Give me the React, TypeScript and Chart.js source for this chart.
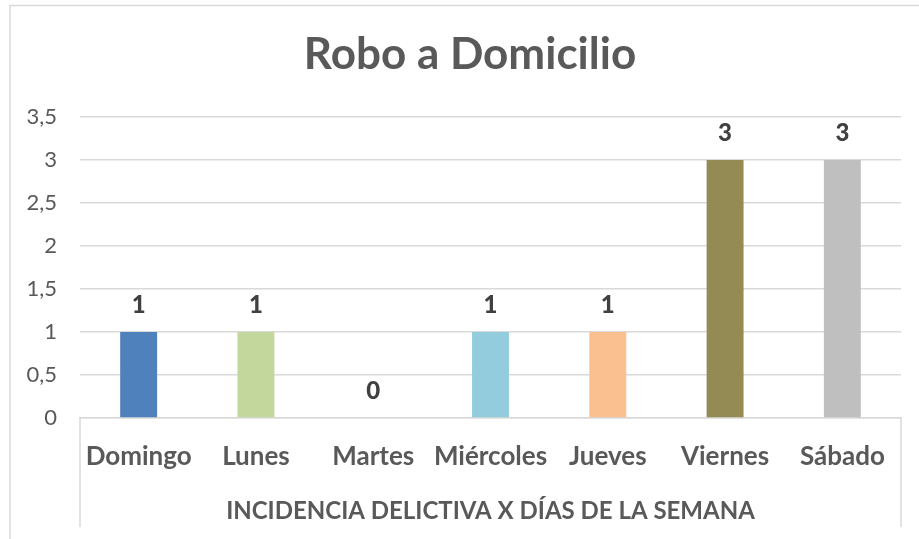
import React, { useEffect, useRef } from "react";
import { Chart, registerables } from "chart.js";

Chart.register(...registerables);

const chartTitle = "Robo a Domicilio";
const axisTitle = "INCIDENCIA DELICTIVA X DÍAS DE LA SEMANA";
const categories = ["Domingo", "Lunes", "Martes", "Miércoles", "Jueves", "Viernes", "Sábado"];
const values = [1, 1, 0, 1, 1, 3, 3];
const barColors = ["#4F81BD", "#C3D69B", "#8064A2", "#93CDDD", "#FAC090", "#948A54", "#BFBFBF"];
const yMin = 0;
const yMax = 3.5;
const yStep = 0.5;

const FONT = "Lato";
const GRID = "#D9D9D9";
const TEXT = "#595959";
const LABEL = "#404040";

const decorPlugin = {
  id: "decor",
  beforeDraw(chart: any) {
    const { ctx, width, height } = chart;
    ctx.save();
    ctx.fillStyle = "#FFFFFF";
    ctx.fillRect(0, 0, width, height);
    ctx.strokeStyle = GRID;
    ctx.lineWidth = 1.5;
    ctx.beginPath();
    ctx.moveTo(10, height);
    ctx.lineTo(10, 5.5);
    ctx.lineTo(width, 5.5);
    ctx.stroke();
    ctx.restore();
  },
  afterDraw(chart: any) {
    const { ctx, chartArea } = chart;
    ctx.save();
    // category axis box sides
    ctx.strokeStyle = GRID;
    ctx.lineWidth = 1.5;
    ctx.beginPath();
    ctx.moveTo(chartArea.left, chartArea.bottom);
    ctx.lineTo(chartArea.left, 527);
    ctx.moveTo(chartArea.right, chartArea.bottom);
    ctx.lineTo(chartArea.right, 527);
    ctx.stroke();

    // title
    ctx.fillStyle = TEXT;
    ctx.font = `bold 44px ${FONT}`;
    ctx.textAlign = "center";
    ctx.textBaseline = "middle";
    ctx.fillText(chartTitle, 470, 55);

    // data labels
    const meta = chart.getDatasetMeta(0);
    ctx.fillStyle = LABEL;
    ctx.font = `900 24px ${FONT}`;
    meta.data.forEach((bar: any, i: number) => {
      ctx.fillText(String(values[i]), bar.x, bar.y - 27);
    });
    ctx.restore();
  },
};

export default function App() {
  const ref = useRef<HTMLCanvasElement | null>(null);
  useEffect(() => {
    if (!ref.current) return;
    const chart = new Chart(ref.current, {
      type: "bar",
      data: {
        labels: categories,
        datasets: [
          {
            data: values,
            backgroundColor: barColors,
            borderWidth: 0,
            barPercentage: 0.315,
            categoryPercentage: 1,
          },
        ],
      },
      options: {
        animation: false,
        responsive: false,
        maintainAspectRatio: false,
        layout: { padding: { top: 117, left: 0, right: 18, bottom: 0 } },
        plugins: {
          legend: { display: false },
          tooltip: { enabled: false },
          title: { display: false },
        },
        scales: {
          x: {
            grid: { display: false },
            border: { display: true, color: GRID, width: 1.5 },
            ticks: {
              color: TEXT,
              font: { family: FONT, size: 26, weight: "bold" },
              padding: 15,
              maxRotation: 0,
              autoSkip: false,
            },
            title: {
              display: true,
              text: axisTitle,
              color: TEXT,
              font: { family: FONT, size: 24, weight: "bold" },
              padding: { top: 0, bottom: 13 },
            },
            afterFit: (scale: any) => {
              scale.height = 121;
            },
          },
          y: {
            min: yMin,
            max: yMax,
            grid: { color: GRID, lineWidth: 1.5, drawTicks: false },
            border: { display: false },
            ticks: {
              stepSize: yStep,
              color: TEXT,
              font: { family: FONT, size: 22 },
              padding: 23,
              callback: (v: any) => String(v).replace(".", ","),
            },
            afterFit: (scale: any) => {
              scale.width = 80;
            },
          },
        },
      },
      plugins: [decorPlugin],
    });
    return () => chart.destroy();
  }, []);
  return (
    <div style={{ position: "fixed", left: 0, top: 0, width: 919, height: 539, background: "#fff" }}>
      <canvas ref={ref} width={919} height={539} style={{ width: 919, height: 539 }} />
    </div>
  );
}
